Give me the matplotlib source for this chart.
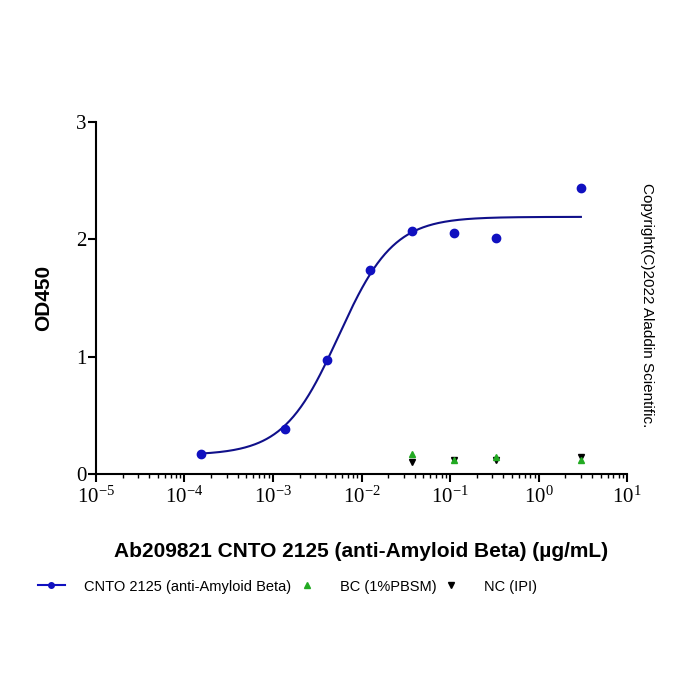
import numpy as np
import matplotlib
matplotlib.use("Agg")
import matplotlib.pyplot as plt
from matplotlib.ticker import LogLocator, NullFormatter, FixedLocator

# Data
conc = [1.52e-4, 1.37e-3, 4.1e-3, 0.0123, 0.037, 0.111, 0.333, 3.0]
od_cnto = [0.17, 0.38, 0.97, 1.74, 2.07, 2.05, 2.01, 2.44]

conc_ctrl = [0.037, 0.111, 0.333, 3.0]
od_bc = [0.17, 0.12, 0.14, 0.12]
od_nc = [0.10, 0.12, 0.12, 0.14]

# 4PL fit parameters
fit_bottom = 0.16
fit_top = 2.19
fit_ec50 = 0.0055
fit_hill = 1.4

series_labels = ["CNTO 2125 (anti-Amyloid Beta)", "BC (1%PBSM)", "NC (IPI)"]
xlabel = "Ab209821 CNTO 2125 (anti-Amyloid Beta) (µg/mL)"
ylabel = "OD450"

fig = plt.figure(figsize=(7, 7), dpi=100)
ax = fig.add_axes([0.137, 0.323, 0.759, 0.503])

xc = np.logspace(np.log10(conc[0]), np.log10(conc[-1]), 300)
yc = fit_bottom + (fit_top - fit_bottom) / (1 + (fit_ec50 / xc) ** fit_hill)
blue = "#1010c0"
navy = "#10108a"
ax.plot(xc, yc, color=navy, lw=1.5, zorder=2)
l1, = ax.plot(conc, od_cnto, 'o', color=blue, ms=6, zorder=3)
l3, = ax.plot(conc_ctrl, od_nc, 'v', color="black", ms=5, zorder=3)
l2, = ax.plot(conc_ctrl, od_bc, '^', color="#22aa22", ms=5, zorder=4)

ax.set_xscale("log")
ax.set_xlim(1e-5, 10)
ax.set_ylim(0, 3)
ax.yaxis.set_major_locator(FixedLocator([0, 1, 2, 3]))
ax.xaxis.set_major_locator(FixedLocator([1e-5, 1e-4, 1e-3, 1e-2, 1e-1, 1e0, 1e1]))
ax.xaxis.set_minor_locator(LogLocator(base=10, subs=np.arange(2, 10), numticks=20))
ax.xaxis.set_minor_formatter(NullFormatter())
ax.set_xticklabels([r"$\mathregular{10^{-5}}$", r"$\mathregular{10^{-4}}$", r"$\mathregular{10^{-3}}$",
                    r"$\mathregular{10^{-2}}$", r"$\mathregular{10^{-1}}$", r"$\mathregular{10^{0}}$",
                    r"$\mathregular{10^{1}}$"])
for s in ["top", "right"]:
    ax.spines[s].set_visible(False)
for s in ["left", "bottom"]:
    ax.spines[s].set_linewidth(1.5)
ax.tick_params(axis="both", which="major", direction="out", length=6, width=1.5,
               labelsize=15)
ax.tick_params(axis="x", which="minor", direction="out", length=3, width=1)
for lab in ax.get_xticklabels() + ax.get_yticklabels():
    lab.set_family("Liberation Serif")
ax.tick_params(axis="y", pad=1)

ax.set_xlabel(xlabel, fontsize=15, fontweight="bold", family="Liberation Sans", labelpad=24)
ax.set_ylabel(ylabel, fontsize=15, fontweight="bold", family="Liberation Sans", labelpad=16)

# legend with line for first entry
lh1, = ax.plot([], [], '-o', color=blue, ms=5, lw=1.5)
leg = fig.legend([lh1, l2, l3], series_labels, loc="center left", bbox_to_anchor=(0.035, 0.162),
                 ncol=3, frameon=False, prop={"family": "Liberation Sans", "size": 10.5},
                 handlelength=1.9, columnspacing=0.1, handletextpad=1.3, markerscale=0.8)

fig.text(0.924, 0.564, "Copyright(C)2022 Aladdin Scientific.", rotation=-90,
         ha="center", va="center", fontsize=11, family="Liberation Sans")

fig.savefig("out.png", dpi=100)
